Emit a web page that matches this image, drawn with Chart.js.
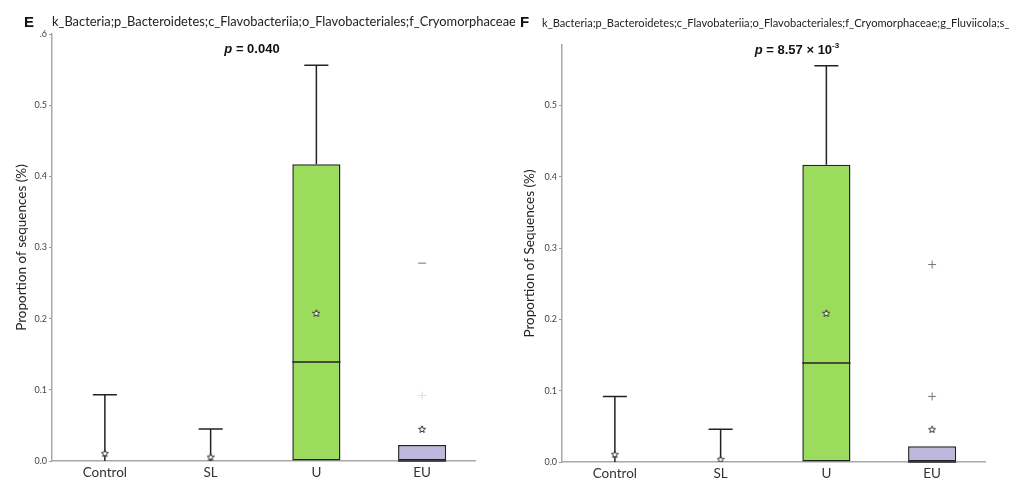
<!DOCTYPE html>
<html lang="en">
<head>
<meta charset="UTF-8">
<title>Cryomorphaceae boxplots</title>
<script src="https://cdn.jsdelivr.net/npm/chart.js"></script>
<style>
    * { margin: 0; padding: 0; }
    body { width: 1030px; height: 482px; background: #fff; overflow: hidden; }
    .panel { position: absolute; top: 0; width: 515px; height: 482px; overflow: hidden; }
    #panelE { left: 0; }
    #panelF { left: 515px; }
    canvas { position: absolute; left: 0; top: 0; }
    .letter { position: absolute; top: 14px; font: bold 15px 'Liberation Sans', Arial, sans-serif; line-height: 1; color: #111; }
    .taxon { position: absolute; white-space: nowrap; font-family: Lato, sans-serif; line-height: 1; color: #222; }
    .pval { position: absolute; top: 42px; transform: translateX(-50%); white-space: nowrap;
            font: bold 13px 'Liberation Sans', Arial, sans-serif; line-height: 1; color: #111; }
    .pval sup { font-size: 8px; vertical-align: 6px; }
</style>
</head>
<body>
<div class="panel" id="panelE">
    <canvas id="chartE" width="515" height="482"></canvas>
    <div class="letter" style="left:24px">E</div>
    <div class="taxon" style="left:52px; top:15px; font-size:12.85px">k_Bacteria;p_Bacteroidetes;c_Flavobacteriia;o_Flavobacteriales;f_Cryomorphaceae</div>
    <div class="pval" style="left:252px"><i>p</i> = 0.040</div>
</div>
<div class="panel" id="panelF">
    <canvas id="chartF" width="515" height="482"></canvas>
    <div class="letter" style="left:5px">F</div>
    <div class="taxon" style="left:27px; top:17px; font-size:11.1px">k_Bacteria;p_Bacteroidetes;c_Flavobateriia;o_Flavobacteriales;f_Cryomorphaceae;g_Fluviicola;s_</div>
    <div class="pval" style="left:282px"><i>p</i> = 8.57 × 10<sup>-3</sup></div>
</div>
<script>
    const groups = ['Control', 'SL', 'U', 'EU'];

    // panel E
    const q1E = [0, 0, 0, 0];
    const q3E = [0, 0, 0.417, 0.0225];
    const medianE = [0, 0, 0.139, 0];
    const whiskerE = [0.093, 0.045, 0.556, 0.0225];
    const meanE = [0.011, 0.006, 0.208, 0.045];
    const outlierGroupE = ['EU', 'EU'];
    const outlierValE = [0.278, 0.092];
    const yTickValsE = [0, 0.1, 0.2, 0.3, 0.4, 0.5, 0.6];
    const yTickTextE = ['0.0', '0.1', '0.2', '0.3', '0.4', '0.5', '.6'];

    // panel F
    const q1F = [0, 0, 0, 0];
    const q3F = [0, 0, 0.417, 0.022];
    const medianF = [0, 0, 0.139, 0];
    const whiskerF = [0.092, 0.046, 0.556, 0.022];
    const meanF = [0.011, 0.004, 0.209, 0.046];
    const outlierGroupF = ['EU', 'EU'];
    const outlierValF = [0.277, 0.092];
    const yTickValsF = [0, 0.1, 0.2, 0.3, 0.4, 0.5];
    const yTickTextF = ['0.0', '0.1', '0.2', '0.3', '0.4', '0.5'];

    const boxColors = ['rgba(0,0,0,0)', 'rgba(0,0,0,0)', '#9bdc5c', '#bdb8dc'];

    function starImage(size) {
        const c = document.createElement('canvas');
        c.width = c.height = size;
        const g = c.getContext('2d');
        g.beginPath();
        for (let i = 0; i < 10; i++) {
            const r = i % 2 ? size * 0.2 : size * 0.46;
            const a = -Math.PI / 2 + i * Math.PI / 5;
            g.lineTo(size / 2 + r * Math.cos(a), size / 2 + 0.5 + r * Math.sin(a));
        }
        g.closePath();
        g.fillStyle = '#fff';
        g.fill();
        g.strokeStyle = '#333';
        g.lineWidth = 1;
        g.stroke();
        return c;
    }
    const star = starImage(8);

    // whiskers under everything, median on top of the box
    const boxParts = {
        id: 'boxParts',
        beforeDatasetsDraw(chart, args, opts) {
            const {ctx} = chart;
            const x = chart.scales.x, y = chart.scales.y;
            const bars = chart.getDatasetMeta(0).data;
            ctx.save();
            ctx.strokeStyle = '#222';
            ctx.lineWidth = 1.5;
            opts.q3.forEach((q, i) => {
                if (opts.whisker[i] <= q) return;
                const cx = x.getPixelForValue(i);
                const cap = bars[i].width / 4;
                const yt = y.getPixelForValue(opts.whisker[i]);
                ctx.beginPath();
                ctx.moveTo(cx, y.getPixelForValue(q));
                ctx.lineTo(cx, yt);
                ctx.moveTo(cx - cap, yt);
                ctx.lineTo(cx + cap, yt);
                ctx.stroke();
            });
            ctx.restore();
        },
        afterDatasetDraw(chart, args, opts) {
            if (args.index !== 0) return;
            const {ctx} = chart;
            const y = chart.scales.y;
            ctx.save();
            ctx.strokeStyle = '#222';
            ctx.lineWidth = 1.5;
            args.meta.data.forEach((bar, i) => {
                if (opts.q3[i] <= opts.q1[i]) return;
                const ym = y.getPixelForValue(opts.median[i]);
                ctx.beginPath();
                ctx.moveTo(bar.x - bar.width / 2, ym);
                ctx.lineTo(bar.x + bar.width / 2, ym);
                ctx.stroke();
            });
            ctx.restore();
        }
    };

    function makeChart(id, d) {
        const ctx = document.getElementById(id).getContext('2d');
        return new Chart(ctx, {
            type: 'bar',
            data: {
                labels: groups,
                datasets: [
                    {
                        data: groups.map((g, i) => [d.q1[i], d.q3[i]]),
                        backgroundColor: boxColors,
                        borderColor: '#222',
                        borderWidth: 1.5,
                        borderSkipped: false,
                        categoryPercentage: 1,
                        barPercentage: 0.455,
                        order: 2
                    },
                    {
                        type: 'line',
                        data: d.mean,
                        showLine: false,
                        pointStyle: star,
                        order: 1
                    },
                    {
                        type: 'line',
                        data: [{x: d.outGroup[0], y: d.outVal[0]}],
                        showLine: false,
                        pointStyle: d.firstOutStyle,
                        pointRadius: 4,
                        borderColor: '#777',
                        borderWidth: 1,
                        order: 1
                    },
                    {
                        type: 'line',
                        data: [{x: d.outGroup[1], y: d.outVal[1]}],
                        showLine: false,
                        pointStyle: 'cross',
                        pointRadius: 4,
                        borderColor: d.secondOutColor,
                        borderWidth: 1,
                        order: 1
                    }
                ]
            },
            options: {
                responsive: false,
                animation: false,
                layout: { padding: { left: 0, top: d.top, right: d.right, bottom: 0 } },
                plugins: {
                    legend: { display: false },
                    tooltip: { enabled: false },
                    boxParts: { q1: d.q1, q3: d.q3, median: d.median, whisker: d.whisker }
                },
                scales: {
                    x: {
                        grid: { display: false, drawTicks: false, tickLength: 0 },
                        border: { color: '#a8a8a8', width: 1.5 },
                        ticks: { color: '#333', font: { family: 'Lato', size: 13.5 }, padding: 4 },
                        afterFit: s => { s.height = 482 - d.bottom; }
                    },
                    y: {
                        min: 0,
                        max: d.max,
                        afterBuildTicks: s => { s.ticks = d.tickVals.map(v => ({value: v})); },
                        ticks: {
                            color: '#444',
                            font: { family: 'Lato', size: 9 },
                            padding: 2,
                            callback: v => d.tickText[d.tickVals.indexOf(v)]
                        },
                        grid: { drawOnChartArea: false, tickLength: 3, color: '#999' },
                        border: { color: '#a8a8a8', width: 1.5 },
                        title: {
                            display: true,
                            text: d.yTitle,
                            color: '#222',
                            font: { family: 'Lato', size: 13.5 },
                            padding: { top: d.titlePad, bottom: 0 }
                        },
                        afterFit: s => { s.width = d.left; }
                    }
                }
            },
            plugins: [boxParts]
        });
    }

    makeChart('chartE', {
        q1: q1E, q3: q3E, median: medianE, whisker: whiskerE, mean: meanE,
        outGroup: outlierGroupE, outVal: outlierValE,
        tickVals: yTickValsE, tickText: yTickTextE, max: 0.6,
        firstOutStyle: 'line', secondOutColor: '#dcdcdc',
        yTitle: 'Proportion of sequences (%)', titlePad: 14,
        left: 52, top: 34, right: 40, bottom: 461
    });

    makeChart('chartF', {
        q1: q1F, q3: q3F, median: medianF, whisker: whiskerF, mean: meanF,
        outGroup: outlierGroupF, outVal: outlierValF,
        tickVals: yTickValsF, tickText: yTickTextF, max: 0.585,
        firstOutStyle: 'cross', secondOutColor: '#777',
        yTitle: 'Proportion of Sequences (%)', titlePad: 7,
        left: 47, top: 45, right: 45, bottom: 462
    });
</script>
</body>
</html>
